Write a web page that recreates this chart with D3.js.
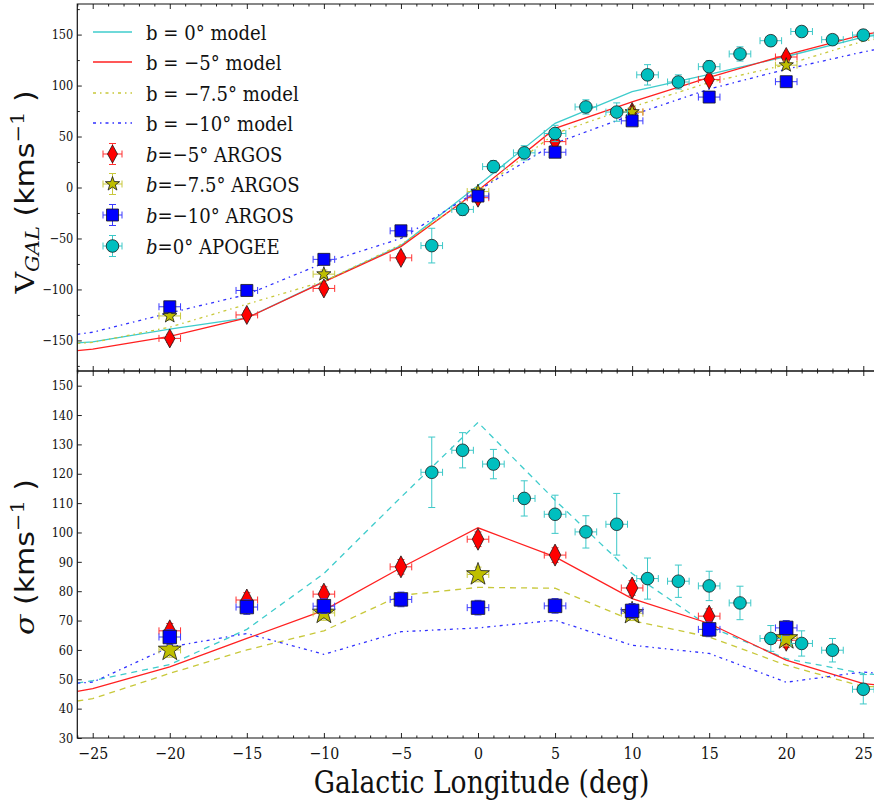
<!DOCTYPE html>
<html><head><meta charset="utf-8">
<script src="https://cdn.jsdelivr.net/npm/d3@7"></script>
<style>body{margin:0;background:#fff} svg{display:block}</style>
</head><body><svg id="chart" width="874" height="803"></svg>
<script>
// ---------- data ----------
const modelLon = [-26,-25,-20,-15,-10,-5,0,5,10,15,20,25,26];
// top panel: V_GAL models
const vModelB0   = [-152.5,-151.5,-139,-128,-92,-57,2,63,94,111,128.5,147.5,149.5];
const vModelB5   = [-160,-158.5,-146,-128,-92.6,-58,-3,58,84,108,130,150,152.5];
const vModelB75  = [-153,-152,-137,-114.5,-92,-56,-4,53,79,103,120.5,143.5,146];
const vModelB10  = [-144,-142,-123,-105,-74,-50,-3,43.5,71,96.6,116,133,136];
// bottom panel: sigma models
const sModelB0   = [48.7,49.5,55,67,86,112,137.5,111,86,68,57,52,51.5];
const sModelB5   = [45.9,46.8,54.2,63.9,73.5,88,101.6,91.7,77.5,69,56.5,48.5,48];
const sModelB75  = [42.6,43.4,52,60,66.5,78.6,81.3,81,70,64.4,54.8,47.5,47.5];
const sModelB10  = [48.7,49,61,65.6,58.5,66.2,67.5,70.1,61.6,58.8,49,52.5,52];

// ARGOS data
const argosLon   = [-20,-15,-10,-5,0,5,10,15,20];
const starLon    = [-20,-10,0,10,20];
const vArgosB5   = [-148,-125,-99,-69,-10,45,74,106,128];
const vArgosB75  = [-126,-85,-4,74,120];
const vArgosB10  = [-117,-101,-70.5,-42.5,-8.4,34.6,65.4,88.7,103.8];
const sArgosB5   = [66.5,77,79,88.3,97.7,92.3,81.1,71.5,63.3];
const sArgosB75  = [60,72.6,85.7,72.5,63.9];
const sArgosB10  = [64.4,74.6,74.9,77.2,74.4,75,73.3,67,67.5];
const argosLonErr = 0.7;
const argosVErr = 4;
const argosSErr = 2.5;

// APOGEE data
const apogeeLon  = [-3,-1,1,3,5,7,9,11,13,15,17,19,21,23,25];
const vApogee    = [-57,-21.5,20.5,34,53,79,74,110.5,103.5,118.5,131,144,153,145,149.5];
const vApogeeErr = [17,6,6,7,8,7,9,10,7,6,7,5,5,5,5];
const sApogee    = [120.5,128,123.3,111.6,106.2,100.2,102.8,84.3,83.4,81.8,76,63.9,62.2,59.9,46.6];
const sApogeeErr = [12,6,5,6,6.5,5.5,10.5,7,5.5,5,5.7,4.4,4.3,4,5];
const apogeeLonErr = 0.7;

const xTicks = [-25,-20,-15,-10,-5,0,5,10,15,20,25];
const vTicks = [-150,-100,-50,0,50,100,150];
const sTicks = [30,40,50,60,70,80,90,100,110,120,130,140,150];

// ---------- setup ----------
const svg = d3.select("#chart");
const SERIF = "'DejaVu Serif', serif";
const SANS = "'DejaVu Sans', sans-serif";
const SX = 0.86;

const x = d3.scaleLinear().domain([-26,26]).range([77.3,878.7]);
const yTop = d3.scaleLinear().domain([-180,180]).range([371,4]);
const yBot = d3.scaleLinear().domain([30,155]).range([738,371]);

const col = {
  cyanLine:"#3fcccc", redLine:"#ff2020", yelLine:"#c8c83a", bluLine:"#3030ff",
  cyan:"#00bfbf", red:"#ff0000", yel:"#bfbf00", blu:"#0000ff",
  cyanErr:"#3cc8c8", redErr:"#ff3030", yelErr:"#c8c83c", bluErr:"#3a3aff"
};

const defs = svg.append("defs");
function clip(id, y0, y1){
  defs.append("clipPath").attr("id",id).append("rect")
    .attr("x",x(-26)).attr("y",y0).attr("width",x(26)-x(-26)).attr("height",y1-y0);
}
clip("cTop",4,371); clip("cBot",371,738);

function drawModel(g, y, vals, color, dash){
  const line = d3.line().x((d,i)=>x(modelLon[i])).y(d=>y(d));
  g.append("path").attr("d", line(vals)).attr("fill","none")
    .attr("stroke",color).attr("stroke-width",1.3)
    .attr("stroke-dasharray", dash || null);
}

function diamondPath(w,h){ return `M0,${-h}L${w},0L0,${h}L${-w},0Z`; }
function starPath(R){
  const r = R*0.4; let p = [];
  for(let k=0;k<10;k++){
    const a = -Math.PI/2 + k*Math.PI/5;
    const rr = k%2===0 ? R : r;
    p.push([rr*Math.cos(a), rr*Math.sin(a)]);
  }
  return "M"+p.map(q=>q[0].toFixed(2)+","+q[1].toFixed(2)).join("L")+"Z";
}
function squarePath(s){ const h=s/2; return `M${-h},${-h}H${h}V${h}H${-h}Z`; }
function circlePath(r){ return d3.arc()({innerRadius:0,outerRadius:r,startAngle:0,endAngle:2*Math.PI}); }

function errBar(g, cx, cy, x0, x1, y0, y1, color){
  const cap = 3.5;
  g.append("line").attr("x1",x0).attr("x2",x1).attr("y1",cy).attr("y2",cy).attr("stroke",color);
  g.append("line").attr("x1",x0).attr("x2",x0).attr("y1",cy-cap).attr("y2",cy+cap).attr("stroke",color);
  g.append("line").attr("x1",x1).attr("x2",x1).attr("y1",cy-cap).attr("y2",cy+cap).attr("stroke",color);
  g.append("line").attr("x1",cx).attr("x2",cx).attr("y1",y0).attr("y2",y1).attr("stroke",color);
  g.append("line").attr("x1",cx-cap).attr("x2",cx+cap).attr("y1",y0).attr("y2",y0).attr("stroke",color);
  g.append("line").attr("x1",cx-cap).attr("x2",cx+cap).attr("y1",y1).attr("y2",y1).attr("stroke",color);
}

function drawSeries(g, y, lons, vals, lonErr, vErr, path, fill, errColor){
  lons.forEach((l,i)=>{
    const e = Array.isArray(vErr) ? vErr[i] : vErr;
    const cx = x(l), cy = y(vals[i]);
    const pg = g.append("g");
    errBar(pg, cx, cy, x(l-lonErr), x(l+lonErr), y(vals[i]+e), y(vals[i]-e), errColor);
    pg.append("path").attr("d",path).attr("transform",`translate(${cx},${cy})`)
      .attr("fill",fill).attr("stroke","#1a1a1a").attr("stroke-width",0.8);
  });
}

// ---------- top panel ----------
const gTop = svg.append("g").attr("clip-path","url(#cTop)");
drawModel(gTop, yTop, vModelB0, col.cyanLine);
drawModel(gTop, yTop, vModelB5, col.redLine);
drawModel(gTop, yTop, vModelB75, col.yelLine, "3,4,1.5,4");
drawModel(gTop, yTop, vModelB10, col.bluLine, "3,4,1.5,4");
drawSeries(gTop, yTop, argosLon, vArgosB5, argosLonErr, argosVErr, diamondPath(5.2,9.5), col.red, col.redErr);
drawSeries(gTop, yTop, starLon, vArgosB75, argosLonErr, argosVErr, starPath(7.5), col.yel, col.yelErr);
drawSeries(gTop, yTop, argosLon, vArgosB10, argosLonErr, argosVErr, squarePath(12), col.blu, col.bluErr);
drawSeries(gTop, yTop, apogeeLon, vApogee, apogeeLonErr, vApogeeErr, circlePath(6.3), col.cyan, col.cyanErr);

// ---------- bottom panel ----------
const gBot = svg.append("g").attr("clip-path","url(#cBot)");
drawModel(gBot, yBot, sModelB0, col.cyanLine, "6,5");
drawModel(gBot, yBot, sModelB5, col.redLine);
drawModel(gBot, yBot, sModelB75, col.yelLine, "6,5");
drawModel(gBot, yBot, sModelB10, col.bluLine, "3,4,1.5,4");
drawSeries(gBot, yBot, argosLon, sArgosB5, argosLonErr, argosSErr, diamondPath(5.8,11), col.red, col.redErr);
drawSeries(gBot, yBot, starLon, sArgosB75, argosLonErr, argosSErr, starPath(12), col.yel, col.yelErr);
drawSeries(gBot, yBot, argosLon, sArgosB10, argosLonErr, argosSErr, squarePath(13.5), col.blu, col.bluErr);
drawSeries(gBot, yBot, apogeeLon, sApogee, apogeeLonErr, sApogeeErr, circlePath(6.3), col.cyan, col.cyanErr);

// ---------- axes ----------
const minorX = d3.range(-26,27,1).filter(v=>v%5!==0);
function styleAxis(g){
  g.select(".domain").remove();
  g.selectAll(".tick line").attr("stroke","#222").attr("stroke-width",1);
  g.attr("font-family",SERIF);
}
function xAxes(y0, y1, labels){
  // bottom spine ticks (inward)
  const b = svg.append("g").attr("transform",`translate(0,${y1})`)
    .call(d3.axisBottom(x).tickValues(xTicks).tickSizeInner(-5).tickSizeOuter(0)
      .tickPadding(7).tickFormat(labels ? d3.format("d") : ""));
  styleAxis(b);
  b.selectAll(".tick text").attr("font-size",16.5).attr("fill","#111")
    .attr("transform",`scale(${SX},1)`).attr("y",9).attr("dy","0.71em");
  const bm = svg.append("g").attr("transform",`translate(0,${y1})`)
    .call(d3.axisBottom(x).tickValues(minorX).tickSizeInner(-2.5).tickSizeOuter(0).tickFormat(""));
  styleAxis(bm);
  const t = svg.append("g").attr("transform",`translate(0,${y0})`)
    .call(d3.axisTop(x).tickValues(xTicks).tickSizeInner(-5).tickSizeOuter(0).tickFormat(""));
  styleAxis(t);
  const tm = svg.append("g").attr("transform",`translate(0,${y0})`)
    .call(d3.axisTop(x).tickValues(minorX).tickSizeInner(-2.5).tickSizeOuter(0).tickFormat(""));
  styleAxis(tm);
}
xAxes(4, 371, false);
xAxes(371, 738, true);

function yAxis(scale, ticks, minor){
  const a = svg.append("g").attr("transform",`translate(${x(-26)},0)`)
    .call(d3.axisLeft(scale).tickValues(ticks).tickSizeInner(-4.5).tickSizeOuter(0)
      .tickPadding(4).tickFormat(d3.format("d")));
  styleAxis(a);
  a.selectAll(".tick text").attr("font-size",13.2).attr("fill","#111")
    .attr("transform",`scale(${SX},1)`).attr("x",-4/SX);
  if(minor){
    const m = svg.append("g").attr("transform",`translate(${x(-26)},0)`)
      .call(d3.axisLeft(scale).tickValues(minor).tickSizeInner(-2.5).tickSizeOuter(0).tickFormat(""));
    styleAxis(m);
  }
}
yAxis(yTop, vTicks, [-175,-125,-75,-25,25,75,125,175]);
yAxis(yBot, sTicks, null);

// frames
function frame(y0,y1){
  svg.append("path").attr("d",`M${x(26)},${y0}H${x(-26)}V${y1}H${x(26)}`)
    .attr("fill","none").attr("stroke","#111").attr("stroke-width",1.2);
}
frame(4,371); frame(371,738);

// ---------- labels ----------
svg.append("text").attr("transform",`translate(481.5,793) scale(${SX},1)`)
  .attr("text-anchor","middle").attr("font-family",SERIF).attr("font-size",31).attr("fill","#111")
  .text("Galactic Longitude (deg)");

function yLabel(cy, build){
  const t = svg.append("text").attr("transform",`translate(34,${cy}) rotate(-90) scale(1,${SX})`)
    .attr("text-anchor","middle").attr("font-size",30).attr("fill","#111");
  build(t);
}
yLabel(192, t=>{
  t.append("tspan").attr("font-family",SERIF).text("V");
  t.append("tspan").attr("font-family",SERIF).attr("font-style","italic").attr("font-size",21).attr("dy",6).text("GAL");
  t.append("tspan").attr("font-family",SANS).attr("dy",-6).text(" (kms");
  t.append("tspan").attr("font-family",SERIF).attr("font-size",21).attr("dy",-12).text("−1");
  t.append("tspan").attr("font-family",SANS).attr("dy",12).text(" )");
});
yLabel(557, t=>{
  t.append("tspan").attr("font-family",SERIF).attr("font-style","italic").text("σ");
  t.append("tspan").attr("font-family",SANS).text(" (kms");
  t.append("tspan").attr("font-family",SERIF).attr("font-size",21).attr("dy",-12).text("−1");
  t.append("tspan").attr("font-family",SANS).attr("dy",12).text(" )");
});

// ---------- legend ----------
const legLines = [
  {label:"b = 0° model", color:col.cyanLine, dash:null},
  {label:"b = −5° model", color:col.redLine, dash:null},
  {label:"b = −7.5° model", color:col.yelLine, dash:"3,4,1.5,4"},
  {label:"b = −10° model", color:col.bluLine, dash:"3,4,1.5,4"}
];
const legPts = [
  {val:"=−5°", name:"ARGOS", path:diamondPath(5,9), fill:col.red, err:col.redErr},
  {val:"=−7.5°", name:"ARGOS", path:starPath(7.5), fill:col.yel, err:col.yelErr},
  {val:"=−10°", name:"ARGOS", path:squarePath(12), fill:col.blu, err:col.bluErr},
  {val:"=0°", name:"APOGEE", path:circlePath(6.3), fill:col.cyan, err:col.cyanErr}
];
const legY = [32,62,93,123,154,184,215,246];
const leg = svg.append("g");
legLines.forEach((d,i)=>{
  const y = legY[i];
  leg.append("line").attr("x1",93).attr("x2",132).attr("y1",y).attr("y2",y)
    .attr("stroke",d.color).attr("stroke-width",1.5).attr("stroke-dasharray",d.dash);
  leg.append("text").attr("transform",`translate(146,${y+7.5}) scale(${SX},1)`)
    .attr("font-family",SERIF).attr("font-size",21).attr("fill","#111").text(d.label);
});
legPts.forEach((d,i)=>{
  const y = legY[i+4], cx = 112.5;
  const pg = leg.append("g");
  errBar(pg, cx, y, cx-9.5, cx+9.5, y-10.5, y+10.5, d.err);
  pg.append("path").attr("d",d.path).attr("transform",`translate(${cx},${y})`)
    .attr("fill",d.fill).attr("stroke","#1a1a1a").attr("stroke-width",0.8);
  const t = leg.append("text").attr("transform",`translate(146,${y+7.5}) scale(${SX},1)`)
    .attr("font-family",SERIF).attr("font-size",21).attr("fill","#111");
  t.append("tspan").attr("font-style","italic").text("b");
  t.append("tspan").text(d.val + " " + d.name);
});
</script>
</body></html>
